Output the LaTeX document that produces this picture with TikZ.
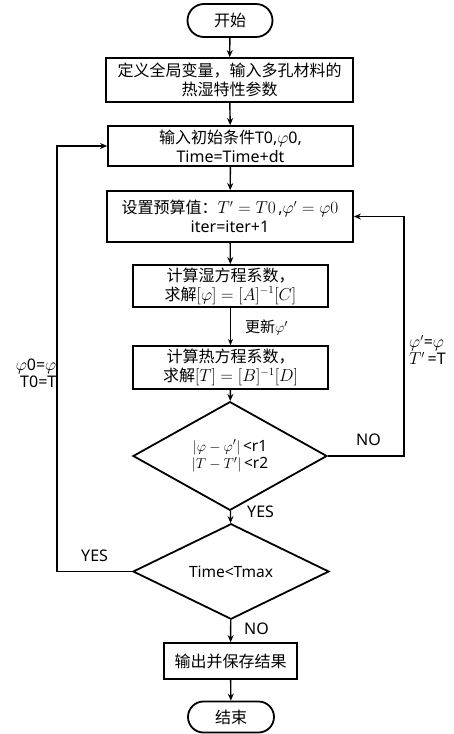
\documentclass[tikz,border=0pt]{standalone}
\usepackage{fontspec}
\setmainfont{Noto Sans}
\newfontfamily\cjk{Noto Sans CJK SC}
\usetikzlibrary{shapes.geometric,shapes.misc,arrows.meta}
\begin{document}
\begin{tikzpicture}[x=1pt,y=-1pt,
  font=\fontsize{16}{19}\selectfont,
  box/.style={draw, line width=1.8pt, inner sep=0pt, align=center},
  term/.style={draw, line width=1.8pt, rounded rectangle, inner sep=0pt},
  dec/.style={draw, line width=1.8pt, diamond, inner sep=0pt, align=center},
  arr/.style={-{Stealth[length=7pt,width=6pt]}, line width=1.4pt},
  thinarr/.style={-{Stealth[length=6pt,width=5pt]}, line width=0.9pt},
  lbl/.style={inner sep=0pt, align=left}
]
\useasboundingbox (0,0) rectangle (454,734);

\node[term, minimum width=85pt, minimum height=33pt] (start) at (230,20.5) {\cjk 开始};
\node[box, minimum width=247pt, minimum height=44pt] (b1) at (229.5,80) {{\cjk 定义全局变量，输入多孔材料的}\\{\cjk 热湿特性参数}};
\node[box, minimum width=245pt, minimum height=40pt] (b2) at (230.5,146) {{\cjk 输入初始条件}T0,$\varphi$0,\\Time=Time+dt};
\node[box, minimum width=246pt, minimum height=51pt] (b3) at (230,216.5) {{\cjk 设置预算值：}$T'=T0$\,,$\varphi'=\varphi0$\\iter=iter+1};
\node[box, minimum width=195pt, minimum height=42pt] (b4) at (230.5,286) {{\cjk 计算湿方程系数，}\\{\cjk 求解}$[\varphi]=[A]^{-1}[C]$};
\node[box, minimum width=195pt, minimum height=43pt] (b5) at (230.5,367.5) {{\cjk 计算热方程系数，}\\{\cjk 求解}$[T]=[B]^{-1}[D]$};
\node[dec, minimum width=194pt, minimum height=82pt, font=\fontsize{15.5}{17.5}\selectfont] (d1) at (230,456) {$|\varphi-\varphi'|$\,<r1\\$|T-T'|$\,<r2};
\node[dec, minimum width=196pt, minimum height=79pt, font=\fontsize{15.5}{17.5}\selectfont] (d2) at (231,571.5) {Time<Tmax};
\node[box, minimum width=133pt, minimum height=36pt] (b6) at (230.5,661) {\cjk 输出并保存结果};
\node[term, minimum width=86pt, minimum height=31pt] (end) at (231,717) {\cjk 结束};

\draw[arr] (start) -- (b1);
\draw[arr] (b1) -- (b2);
\draw[arr] (b2) -- (b3);
\draw[arr] (b3) -- (b4);
\draw[thinarr] (b4) -- (b5);
\draw[arr] (b5) -- (d1);
\draw[arr] (d1) -- (d2);
\draw[arr] (d2) -- (b6);
\draw[arr] (b6) -- (end);

\coordinate (rc) at (404,216.5);
\draw[arr] (d1.east) -| (rc) -- (b3.east);
\coordinate (lc) at (57,146);
\draw[arr] (d2.west) -| (lc) -- (b2.west);

\node[lbl, anchor=west, font=\fontsize{15}{17}\selectfont] (upd) at (245,328) {{\cjk 更新}$\varphi'$};
\node[lbl, anchor=west, font=\fontsize{16}{18}\selectfont] (yes1) at (247,512) {YES};
\node[lbl, anchor=west, font=\fontsize{16}{18}\selectfont] (no1) at (356,440) {NO};
\node[lbl, anchor=west, font=\fontsize{16}{18}\selectfont] (yes2) at (81,556) {YES};
\node[lbl, anchor=west, font=\fontsize{16}{18}\selectfont] (no2) at (244,629) {NO};
\node[lbl, anchor=west, font=\fontsize{16}{17}\selectfont] (rl) at (409,350) {$\varphi'$=$\varphi$\\$T'$\,=T};
\node[lbl, anchor=east, align=right, font=\fontsize{16}{17}\selectfont] (ll) at (56.5,373) {$\varphi$0=$\varphi$\\T0=T};
\end{tikzpicture}
\end{document}
